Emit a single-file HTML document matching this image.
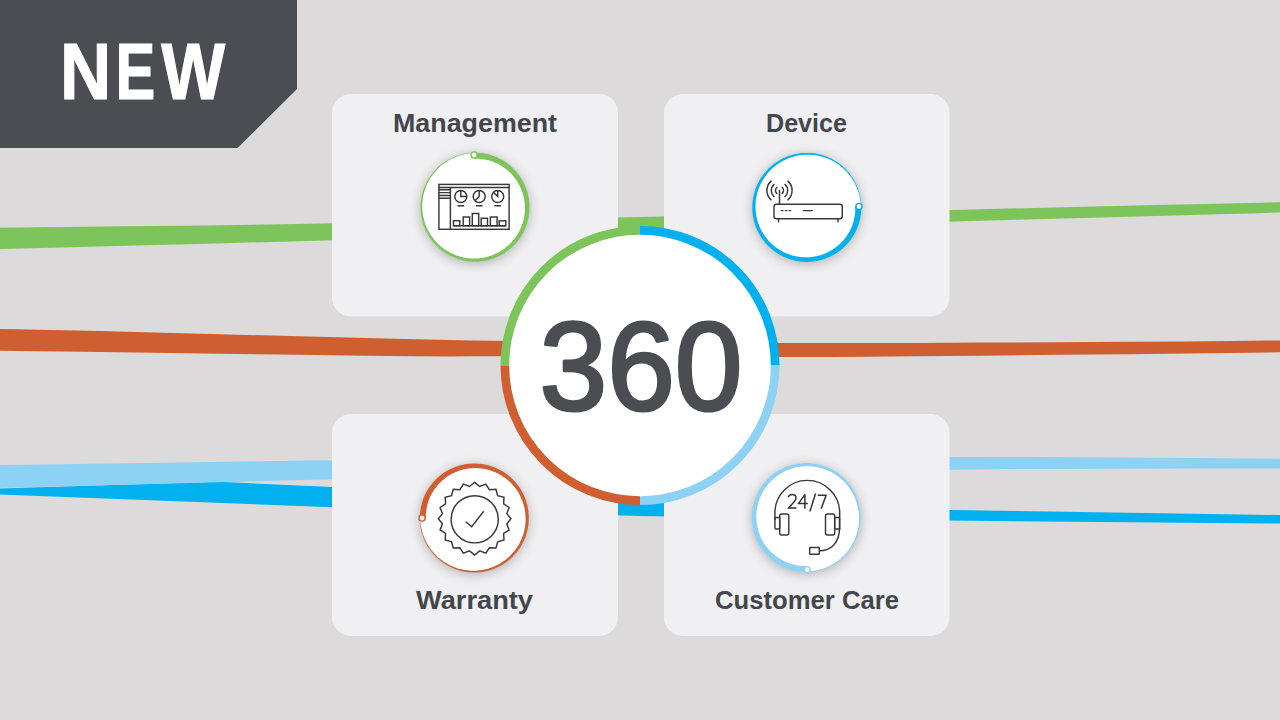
<!DOCTYPE html>
<html><head><meta charset="utf-8"><style>
html,body{margin:0;padding:0;background:#dcdadb;}
svg{display:block;}
text{font-family:"Liberation Sans",sans-serif;}
</style></head><body>
<svg width="1280" height="720" viewBox="0 0 1280 720">
<defs>
<filter id="sh" x="-50%" y="-50%" width="200%" height="200%">
<feGaussianBlur in="SourceAlpha" stdDeviation="6"/><feOffset dy="2"/>
<feComponentTransfer><feFuncA type="linear" slope="0.27"/></feComponentTransfer>
</filter>
</defs>
<rect width="1280" height="720" fill="#dcdadb"/>
<path d="M0,227.7 L20.75,227.47 L62.25,227.01 L124.5,226.31 L207.5,225.39 L308.31,223.82 L426.94,221.61 L563.38,218.75 L717.62,215.25 L854,212.14 L972.5,209.41 L1073.12,207.08 L1155.88,205.12 L1217.94,203.66 L1259.31,202.69 L1280,202.2 L1280,212.6 L1259.31,213.16 L1217.94,214.29 L1155.88,215.97 L1073.12,218.22 L972.5,221.09 L854,224.58 L717.62,228.69 L563.38,233.41 L426.94,237.49 L308.31,240.91 L207.5,243.69 L124.5,245.81 L62.25,247.41 L20.75,248.47 L0,249Z" fill="#7dc45b"/>
<path d="M-40,328 L-37.5,328.06 L-32.5,328.19 L-25,328.38 L-15,328.62 L-1.25,328.93 L16.25,329.29 L37.5,329.71 L62.5,330.19 L101.25,331.09 L153.75,332.41 L220,334.16 L300,336.34 L365,338.05 L415,339.3 L450,340.09 L470,340.41 L493.75,340.72 L521.25,341.02 L552.5,341.31 L587.5,341.59 L622.5,341.86 L657.5,342.12 L692.5,342.38 L727.5,342.62 L758.75,342.82 L786.25,342.98 L810,343.08 L830,343.12 L865,343.06 L915,342.89 L980,342.6 L1060,342.2 L1128.75,341.8 L1186.25,341.4 L1232.5,341 L1267.5,340.6 L1293.75,340.3 L1311.25,340.1 L1320,340 L1320,351.8 L1311.25,351.92 L1293.75,352.16 L1267.5,352.51 L1232.5,352.99 L1186.25,353.54 L1128.75,354.16 L1060,354.86 L980,355.64 L915,356.24 L865,356.66 L830,356.91 L810,356.99 L786.25,357.02 L758.75,357.01 L727.5,356.95 L692.5,356.85 L657.5,356.74 L622.5,356.63 L587.5,356.51 L552.5,356.39 L521.25,356.31 L493.75,356.29 L470,356.31 L450,356.39 L415,356.16 L365,355.64 L300,354.81 L220,353.69 L153.75,352.77 L101.25,352.06 L62.5,351.55 L37.5,351.25 L16.25,350.98 L-1.25,350.73 L-15,350.5 L-25,350.3 L-32.5,350.15 L-37.5,350.05 L-40,350Z" fill="#cf5e30"/>
<path d="M-40,489.5 L0,488.5 L218,481.8 L332,486.9 L949,510 L1280,515 L1280,523.5 L949,520.6 L640,516 L332,507.3 L0,494.5 L-40,494Z" fill="#00b0ef"/>
<path d="M-40,465.6 L-30,465.45 L-10,465.15 L60,464.15 L180,462.45 L263,461.2 L309,460.4 L486.25,459.06 L794.75,457.19 L1031.75,456.88 L1197.25,458.12 L1280,458.75 L1280,468.5 L1197.25,468.62 L1031.75,468.88 L794.75,471.55 L486.25,476.65 L303.5,479.95 L246.5,481.45 L163.5,483.65 L54.5,486.55 L-10,488.25 L-30,488.75 L-40,489Z" fill="#8dd2f4"/>
<polygon points="0,0 297,0 297,89 237.5,148 0,148" fill="#4a4e52"/>
<text transform="translate(59.94,98.8) scale(0.89,1)" x="0" y="0" font-size="79.6" font-weight="bold" fill="#fff" stroke="#fff" stroke-width="1.2">N</text><text transform="translate(115.58,98.8) scale(0.75,1)" x="0" y="0" font-size="79.6" font-weight="bold" fill="#fff" stroke="#fff" stroke-width="1.2">E</text><text transform="translate(161.13,98.8) scale(0.85,1)" x="0" y="0" font-size="79.6" font-weight="bold" fill="#fff" stroke="#fff" stroke-width="1.2">W</text>
<rect x="332" y="94" width="286" height="222.5" rx="19" fill="#f0f0f2"/>
<rect x="664" y="94" width="285.5" height="222.5" rx="19" fill="#f0f0f2"/>
<rect x="332" y="414" width="286" height="222" rx="19" fill="#f0f0f2"/>
<rect x="664" y="414" width="285.5" height="222" rx="19" fill="#f0f0f2"/>
<circle cx="640" cy="365.5" r="136" fill="#fff"/>
<path d="M504.85,365.5 A135.15,135.15 0 0 1 640,230.35" fill="none" stroke="#7dc45b" stroke-width="8.7"/>
<path d="M640,230.35 A135.15,135.15 0 0 1 775.15,365.5" fill="none" stroke="#00b0ef" stroke-width="8.7"/>
<path d="M775.15,365.5 A135.15,135.15 0 0 1 640,500.65" fill="none" stroke="#8dd2f4" stroke-width="8.7"/>
<path d="M640,500.65 A135.15,135.15 0 0 1 504.85,365.5" fill="none" stroke="#cf5e30" stroke-width="8.7"/>
<text x="539.5" y="409.6" font-size="127" fill="#4a4e53" stroke="#4a4e53" stroke-width="3.2" stroke-linejoin="round" textLength="203" lengthAdjust="spacingAndGlyphs">360</text>
<circle cx="475" cy="207.2" r="54.5" fill="#fff" filter="url(#sh)"/><circle cx="806.8" cy="207.4" r="54.5" fill="#fff" filter="url(#sh)"/><circle cx="474.3" cy="518" r="54.5" fill="#fff" filter="url(#sh)"/><circle cx="806.3" cy="517.5" r="54.5" fill="#fff" filter="url(#sh)"/><circle cx="475" cy="207.2" r="54.2" fill="#fff"/><path d="M474.05,152.71 L475.95,152.71 L477.85,152.77 L479.75,152.91 L481.64,153.11 L483.53,153.37 L485.4,153.7 L487.26,154.1 L489.11,154.56 L490.93,155.08 L492.74,155.67 L494.53,156.32 L496.29,157.03 L498.03,157.81 L499.74,158.64 L501.42,159.53 L503.07,160.48 L504.68,161.49 L506.26,162.56 L507.8,163.67 L509.3,164.85 L510.76,166.07 L512.17,167.34 L513.54,168.66 L514.86,170.03 L516.13,171.44 L517.35,172.9 L518.53,174.4 L519.64,175.94 L520.71,177.52 L521.72,179.13 L522.67,180.78 L523.56,182.46 L524.39,184.17 L525.17,185.91 L525.88,187.67 L526.53,189.46 L527.12,191.27 L527.64,193.09 L528.1,194.94 L528.5,196.8 L528.83,198.67 L529.09,200.56 L529.29,202.45 L529.43,204.35 L529.49,206.25 L529.49,208.15 L529.43,210.05 L529.29,211.95 L529.09,213.84 L528.83,215.73 L528.5,217.6 L528.1,219.46 L527.64,221.31 L527.12,223.13 L526.53,224.94 L525.88,226.73 L525.17,228.49 L524.39,230.23 L523.56,231.94 L522.67,233.62 L521.72,235.27 L520.71,236.88 L519.64,238.46 L518.53,240 L517.35,241.5 L516.13,242.96 L514.86,244.37 L513.54,245.74 L512.17,247.06 L510.76,248.33 L509.3,249.55 L507.8,250.73 L506.26,251.84 L504.68,252.91 L503.07,253.92 L501.42,254.87 L499.74,255.76 L498.03,256.59 L496.29,257.37 L494.53,258.08 L492.74,258.73 L490.93,259.32 L489.11,259.84 L487.26,260.3 L485.4,260.7 L483.53,261.03 L481.64,261.29 L479.75,261.49 L477.85,261.63 L475.95,261.69 L474.05,261.69 L472.15,261.63 L470.25,261.49 L468.36,261.29 L466.47,261.03 L464.6,260.7 L462.74,260.3 L460.89,259.84 L459.07,259.32 L457.26,258.73 L455.47,258.08 L453.71,257.37 L451.97,256.59 L450.26,255.76 L448.58,254.87 L446.93,253.92 L445.32,252.91 L443.74,251.84 L442.2,250.73 L440.7,249.55 L439.24,248.33 L437.83,247.06 L436.46,245.74 L435.14,244.37 L433.87,242.96 L432.65,241.5 L431.47,240 L430.36,238.46 L429.29,236.88 L428.28,235.27 L427.33,233.62 L426.44,231.94 L425.61,230.23 L424.83,228.49 L424.12,226.73 L423.47,224.94 L422.88,223.13 L422.36,221.31 L421.9,219.46 L421.5,217.6 L421.17,215.73 L420.91,213.84 L420.71,211.95 L420.57,210.05 L420.51,208.15 L420.51,206.25 L420.57,204.35 L420.71,202.45 L420.91,200.56 L421.17,198.67 L421.5,196.8 L421.9,194.94 L422.36,193.09 L422.88,191.27 L423.47,189.46 L424.12,187.67 L424.83,185.91 L425.61,184.17 L426.44,182.46 L427.33,180.78 L428.28,179.13 L429.29,177.52 L430.36,175.94 L431.47,174.4 L432.65,172.9 L433.87,171.44 L435.14,170.03 L436.46,168.66 L437.83,167.34 L439.24,166.07 L440.7,164.85 L442.2,163.67 L443.74,162.56 L445.32,161.49 L446.93,160.48 L448.58,159.53 L450.26,158.64 L451.97,157.81 L453.71,157.03 L455.47,156.32 L457.26,155.67 L459.07,155.08 L460.89,154.56 L462.74,154.1 L464.6,153.7 L466.47,153.37 L468.36,153.11 L470.25,152.91 L472.15,152.77 L474.05,152.71 L474.06,153.11 L472.17,153.21 L470.29,153.37 L468.42,153.6 L466.56,153.89 L464.71,154.25 L462.87,154.67 L461.05,155.15 L459.26,155.7 L457.48,156.31 L455.72,156.98 L454,157.72 L452.29,158.51 L450.62,159.36 L448.98,160.26 L447.38,161.23 L445.81,162.25 L444.27,163.32 L442.78,164.44 L441.33,165.62 L439.92,166.84 L438.55,168.11 L437.23,169.43 L435.96,170.79 L434.73,172.2 L433.56,173.64 L432.44,175.13 L431.37,176.65 L430.36,178.21 L429.4,179.8 L428.5,181.42 L427.66,183.08 L426.87,184.76 L426.15,186.46 L425.48,188.19 L424.88,189.94 L424.33,191.71 L423.86,193.5 L423.44,195.3 L423.09,197.11 L422.8,198.93 L422.57,200.76 L422.41,202.6 L422.31,204.44 L422.28,206.28 L422.31,208.12 L422.4,209.96 L422.56,211.79 L422.79,213.61 L423.07,215.42 L423.42,217.23 L423.83,219.01 L424.31,220.78 L424.84,222.54 L425.44,224.27 L426.09,225.97 L426.8,227.66 L427.58,229.31 L428.4,230.94 L429.29,232.54 L430.23,234.1 L431.22,235.63 L432.26,237.12 L433.36,238.58 L434.5,239.99 L435.7,241.37 L436.94,242.7 L438.22,243.98 L439.55,245.22 L440.92,246.41 L442.32,247.55 L443.77,248.64 L445.25,249.68 L446.77,250.67 L448.32,251.6 L449.9,252.48 L451.51,253.3 L453.15,254.06 L454.81,254.77 L456.49,255.41 L458.2,256 L459.92,256.53 L461.66,256.99 L463.41,257.4 L465.18,257.74 L466.95,258.02 L468.73,258.24 L470.52,258.4 L472.31,258.49 L474.1,258.52 L475.9,258.49 L477.68,258.4 L479.47,258.24 L481.24,258.02 L483.01,257.75 L484.76,257.4 L486.5,257 L488.22,256.54 L489.93,256.02 L491.61,255.44 L493.27,254.8 L494.91,254.11 L496.52,253.36 L498.11,252.55 L499.66,251.69 L501.18,250.77 L502.67,249.81 L504.12,248.79 L505.54,247.72 L506.91,246.61 L508.25,245.45 L509.54,244.24 L510.79,242.99 L512,241.7 L513.15,240.37 L514.26,238.99 L515.32,237.59 L516.33,236.14 L517.29,234.67 L518.2,233.16 L519.05,231.62 L519.85,230.05 L520.59,228.46 L521.28,226.84 L521.91,225.21 L522.48,223.55 L522.99,221.87 L523.44,220.18 L523.83,218.47 L524.17,216.76 L524.44,215.03 L524.65,213.3 L524.8,211.56 L524.89,209.81 L524.92,208.07 L524.89,206.33 L524.8,204.59 L524.65,202.86 L524.44,201.13 L524.16,199.41 L523.83,197.71 L523.44,196.02 L522.99,194.34 L522.48,192.68 L521.92,191.05 L521.3,189.43 L520.62,187.84 L519.89,186.27 L519.1,184.73 L518.26,183.22 L517.37,181.74 L516.43,180.29 L515.44,178.88 L514.4,177.51 L513.32,176.17 L512.19,174.87 L511.02,173.61 L509.8,172.4 L508.54,171.23 L507.25,170.1 L505.91,169.02 L504.54,167.99 L503.14,167.01 L501.7,166.08 L500.24,165.2 L498.74,164.37 L497.22,163.6 L495.67,162.88 L494.1,162.21 L492.5,161.6 L490.89,161.05 L489.26,160.55 L487.62,160.11 L485.96,159.73 L484.29,159.41 L482.61,159.14 L480.93,158.94 L479.24,158.79 L477.54,158.7 L475.85,158.68 L474.15,158.71Z" fill="#7dc45b"/><circle cx="474.09" cy="155.01" r="3.1" fill="#fff" stroke="#7dc45b" stroke-width="1.4"/><circle cx="806.8" cy="207.4" r="54.2" fill="#fff"/><path d="M861.29,206.45 L861.29,208.35 L861.23,210.25 L861.09,212.15 L860.89,214.04 L860.63,215.93 L860.3,217.8 L859.9,219.66 L859.44,221.51 L858.92,223.33 L858.33,225.14 L857.68,226.93 L856.97,228.69 L856.19,230.43 L855.36,232.14 L854.47,233.82 L853.52,235.47 L852.51,237.08 L851.44,238.66 L850.33,240.2 L849.15,241.7 L847.93,243.16 L846.66,244.57 L845.34,245.94 L843.97,247.26 L842.56,248.53 L841.1,249.75 L839.6,250.93 L838.06,252.04 L836.48,253.11 L834.87,254.12 L833.22,255.07 L831.54,255.96 L829.83,256.79 L828.09,257.57 L826.33,258.28 L824.54,258.93 L822.73,259.52 L820.91,260.04 L819.06,260.5 L817.2,260.9 L815.33,261.23 L813.44,261.49 L811.55,261.69 L809.65,261.83 L807.75,261.89 L805.85,261.89 L803.95,261.83 L802.05,261.69 L800.16,261.49 L798.27,261.23 L796.4,260.9 L794.54,260.5 L792.69,260.04 L790.87,259.52 L789.06,258.93 L787.27,258.28 L785.51,257.57 L783.77,256.79 L782.06,255.96 L780.38,255.07 L778.73,254.12 L777.12,253.11 L775.54,252.04 L774,250.93 L772.5,249.75 L771.04,248.53 L769.63,247.26 L768.26,245.94 L766.94,244.57 L765.67,243.16 L764.45,241.7 L763.27,240.2 L762.16,238.66 L761.09,237.08 L760.08,235.47 L759.13,233.82 L758.24,232.14 L757.41,230.43 L756.63,228.69 L755.92,226.93 L755.27,225.14 L754.68,223.33 L754.16,221.51 L753.7,219.66 L753.3,217.8 L752.97,215.93 L752.71,214.04 L752.51,212.15 L752.37,210.25 L752.31,208.35 L752.31,206.45 L752.37,204.55 L752.51,202.65 L752.71,200.76 L752.97,198.87 L753.3,197 L753.7,195.14 L754.16,193.29 L754.68,191.47 L755.27,189.66 L755.92,187.87 L756.63,186.11 L757.41,184.37 L758.24,182.66 L759.13,180.98 L760.08,179.33 L761.09,177.72 L762.16,176.14 L763.27,174.6 L764.45,173.1 L765.67,171.64 L766.94,170.23 L768.26,168.86 L769.63,167.54 L771.04,166.27 L772.5,165.05 L774,163.87 L775.54,162.76 L777.12,161.69 L778.73,160.68 L780.38,159.73 L782.06,158.84 L783.77,158.01 L785.51,157.23 L787.27,156.52 L789.06,155.87 L790.87,155.28 L792.69,154.76 L794.54,154.3 L796.4,153.9 L798.27,153.57 L800.16,153.31 L802.05,153.11 L803.95,152.97 L805.85,152.91 L807.75,152.91 L809.65,152.97 L811.55,153.11 L813.44,153.31 L815.33,153.57 L817.2,153.9 L819.06,154.3 L820.91,154.76 L822.73,155.28 L824.54,155.87 L826.33,156.52 L828.09,157.23 L829.83,158.01 L831.54,158.84 L833.22,159.73 L834.87,160.68 L836.48,161.69 L838.06,162.76 L839.6,163.87 L841.1,165.05 L842.56,166.27 L843.97,167.54 L845.34,168.86 L846.66,170.23 L847.93,171.64 L849.15,173.1 L850.33,174.6 L851.44,176.14 L852.51,177.72 L853.52,179.33 L854.47,180.98 L855.36,182.66 L856.19,184.37 L856.97,186.11 L857.68,187.87 L858.33,189.66 L858.92,191.47 L859.44,193.29 L859.9,195.14 L860.3,197 L860.63,198.87 L860.89,200.76 L861.09,202.65 L861.23,204.55 L861.29,206.45 L860.89,206.46 L860.79,204.57 L860.63,202.69 L860.4,200.82 L860.11,198.96 L859.75,197.11 L859.33,195.27 L858.85,193.45 L858.3,191.66 L857.69,189.88 L857.02,188.12 L856.28,186.4 L855.49,184.69 L854.64,183.02 L853.74,181.38 L852.77,179.78 L851.75,178.21 L850.68,176.67 L849.56,175.18 L848.38,173.73 L847.16,172.32 L845.89,170.95 L844.57,169.63 L843.21,168.36 L841.8,167.13 L840.36,165.96 L838.87,164.84 L837.35,163.77 L835.79,162.76 L834.2,161.8 L832.58,160.9 L830.92,160.06 L829.24,159.27 L827.54,158.55 L825.81,157.88 L824.06,157.28 L822.29,156.73 L820.5,156.26 L818.7,155.84 L816.89,155.49 L815.07,155.2 L813.24,154.97 L811.4,154.81 L809.56,154.71 L807.72,154.68 L805.88,154.71 L804.04,154.8 L802.21,154.96 L800.39,155.19 L798.58,155.47 L796.77,155.82 L794.99,156.23 L793.22,156.71 L791.46,157.24 L789.73,157.84 L788.03,158.49 L786.34,159.2 L784.69,159.98 L783.06,160.8 L781.46,161.69 L779.9,162.63 L778.37,163.62 L776.88,164.66 L775.42,165.76 L774.01,166.9 L772.63,168.1 L771.3,169.34 L770.02,170.62 L768.78,171.95 L767.59,173.32 L766.45,174.72 L765.36,176.17 L764.32,177.65 L763.33,179.17 L762.4,180.72 L761.52,182.3 L760.7,183.91 L759.94,185.55 L759.23,187.21 L758.59,188.89 L758,190.6 L757.47,192.32 L757.01,194.06 L756.6,195.81 L756.26,197.58 L755.98,199.35 L755.76,201.13 L755.6,202.92 L755.51,204.71 L755.48,206.5 L755.51,208.3 L755.6,210.08 L755.76,211.87 L755.98,213.64 L756.25,215.41 L756.6,217.16 L757,218.9 L757.46,220.62 L757.98,222.33 L758.56,224.01 L759.2,225.67 L759.89,227.31 L760.64,228.92 L761.45,230.51 L762.31,232.06 L763.23,233.58 L764.19,235.07 L765.21,236.52 L766.28,237.94 L767.39,239.31 L768.55,240.65 L769.76,241.94 L771.01,243.19 L772.3,244.4 L773.63,245.55 L775.01,246.66 L776.41,247.72 L777.86,248.73 L779.33,249.69 L780.84,250.6 L782.38,251.45 L783.95,252.25 L785.54,252.99 L787.16,253.68 L788.79,254.31 L790.45,254.88 L792.13,255.39 L793.82,255.84 L795.53,256.23 L797.24,256.57 L798.97,256.84 L800.7,257.05 L802.44,257.2 L804.19,257.29 L805.93,257.32 L807.67,257.29 L809.41,257.2 L811.14,257.05 L812.87,256.84 L814.59,256.56 L816.29,256.23 L817.98,255.84 L819.66,255.39 L821.32,254.88 L822.95,254.32 L824.57,253.7 L826.16,253.02 L827.73,252.29 L829.27,251.5 L830.78,250.66 L832.26,249.77 L833.71,248.83 L835.12,247.84 L836.49,246.8 L837.83,245.72 L839.13,244.59 L840.39,243.42 L841.6,242.2 L842.77,240.94 L843.9,239.65 L844.98,238.31 L846.01,236.94 L846.99,235.54 L847.92,234.1 L848.8,232.64 L849.63,231.14 L850.4,229.62 L851.12,228.07 L851.79,226.5 L852.4,224.9 L852.95,223.29 L853.45,221.66 L853.89,220.02 L854.27,218.36 L854.59,216.69 L854.86,215.01 L855.06,213.33 L855.21,211.64 L855.3,209.94 L855.32,208.25 L855.29,206.55Z" fill="#00b0ef"/><circle cx="858.99" cy="206.49" r="3.1" fill="#fff" stroke="#00b0ef" stroke-width="1.4"/><circle cx="474.3" cy="518" r="54.2" fill="#fff"/><path d="M419.8,518 L419.83,516.1 L419.93,514.2 L420.1,512.3 L420.33,510.42 L420.63,508.54 L420.99,506.67 L421.42,504.82 L421.91,502.98 L422.47,501.16 L423.09,499.36 L423.77,497.58 L424.51,495.83 L425.32,494.11 L426.18,492.41 L427.1,490.75 L428.08,489.12 L429.12,487.52 L430.21,485.97 L431.35,484.45 L432.55,482.97 L433.8,481.53 L435.1,480.14 L436.44,478.8 L437.83,477.5 L439.27,476.25 L440.75,475.05 L442.27,473.91 L443.82,472.82 L445.42,471.78 L447.05,470.8 L448.71,469.88 L450.41,469.02 L452.13,468.21 L453.88,467.47 L455.66,466.79 L457.46,466.17 L459.28,465.61 L461.12,465.12 L462.97,464.69 L464.84,464.33 L466.72,464.03 L468.6,463.8 L470.5,463.63 L472.4,463.53 L474.3,463.5 L476.2,463.53 L478.1,463.63 L480,463.8 L481.88,464.03 L483.76,464.33 L485.63,464.69 L487.48,465.12 L489.32,465.61 L491.14,466.17 L492.94,466.79 L494.72,467.47 L496.47,468.21 L498.19,469.02 L499.89,469.88 L501.55,470.8 L503.18,471.78 L504.78,472.82 L506.33,473.91 L507.85,475.05 L509.33,476.25 L510.77,477.5 L512.16,478.8 L513.5,480.14 L514.8,481.53 L516.05,482.97 L517.25,484.45 L518.39,485.97 L519.48,487.52 L520.52,489.12 L521.5,490.75 L522.42,492.41 L523.28,494.11 L524.09,495.83 L524.83,497.58 L525.51,499.36 L526.13,501.16 L526.69,502.98 L527.18,504.82 L527.61,506.67 L527.97,508.54 L528.27,510.42 L528.5,512.3 L528.67,514.2 L528.77,516.1 L528.8,518 L528.77,519.9 L528.67,521.8 L528.5,523.7 L528.27,525.58 L527.97,527.46 L527.61,529.33 L527.18,531.18 L526.69,533.02 L526.13,534.84 L525.51,536.64 L524.83,538.42 L524.09,540.17 L523.28,541.89 L522.42,543.59 L521.5,545.25 L520.52,546.88 L519.48,548.48 L518.39,550.03 L517.25,551.55 L516.05,553.03 L514.8,554.47 L513.5,555.86 L512.16,557.2 L510.77,558.5 L509.33,559.75 L507.85,560.95 L506.33,562.09 L504.78,563.18 L503.18,564.22 L501.55,565.2 L499.89,566.12 L498.19,566.98 L496.47,567.79 L494.72,568.53 L492.94,569.21 L491.14,569.83 L489.32,570.39 L487.48,570.88 L485.63,571.31 L483.76,571.67 L481.88,571.97 L480,572.2 L478.1,572.37 L476.2,572.47 L474.3,572.5 L472.4,572.47 L470.5,572.37 L468.6,572.2 L466.72,571.97 L464.84,571.67 L462.97,571.31 L461.12,570.88 L459.28,570.39 L457.46,569.83 L455.66,569.21 L453.88,568.53 L452.13,567.79 L450.41,566.98 L448.71,566.12 L447.05,565.2 L445.42,564.22 L443.82,563.18 L442.27,562.09 L440.75,560.95 L439.27,559.75 L437.83,558.5 L436.44,557.2 L435.1,555.86 L433.8,554.47 L432.55,553.03 L431.35,551.55 L430.21,550.03 L429.12,548.48 L428.08,546.88 L427.1,545.25 L426.18,543.59 L425.32,541.89 L424.51,540.17 L423.77,538.42 L423.09,536.64 L422.47,534.84 L421.91,533.02 L421.42,531.18 L420.99,529.33 L420.63,527.46 L420.33,525.58 L420.1,523.7 L419.93,521.8 L419.83,519.9 L419.8,518 L420.2,518 L420.26,519.89 L420.39,521.77 L420.59,523.65 L420.85,525.51 L421.18,527.37 L421.56,529.21 L422.02,531.04 L422.53,532.84 L423.11,534.63 L423.75,536.4 L424.46,538.14 L425.22,539.85 L426.04,541.54 L426.92,543.19 L427.85,544.82 L428.84,546.4 L429.89,547.96 L430.99,549.47 L432.13,550.94 L433.33,552.37 L434.58,553.76 L435.88,555.11 L437.22,556.4 L438.6,557.65 L440.03,558.85 L441.49,559.99 L442.99,561.09 L444.53,562.13 L446.11,563.11 L447.72,564.04 L449.35,564.92 L451.02,565.73 L452.71,566.48 L454.43,567.18 L456.17,567.81 L457.93,568.39 L459.71,568.9 L461.5,569.35 L463.3,569.73 L465.12,570.05 L466.95,570.31 L468.78,570.5 L470.62,570.63 L472.46,570.7 L474.3,570.7 L476.14,570.64 L477.97,570.51 L479.8,570.32 L481.62,570.06 L483.42,569.75 L485.22,569.37 L487,568.92 L488.76,568.42 L490.5,567.85 L492.22,567.23 L493.91,566.55 L495.58,565.8 L497.22,565 L498.84,564.15 L500.42,563.24 L501.96,562.27 L503.47,561.25 L504.95,560.18 L506.38,559.06 L507.77,557.89 L509.13,556.68 L510.43,555.42 L511.69,554.11 L512.91,552.76 L514.07,551.37 L515.19,549.95 L516.26,548.48 L517.27,546.98 L518.23,545.45 L519.13,543.88 L519.98,542.29 L520.77,540.67 L521.51,539.02 L522.18,537.35 L522.8,535.65 L523.36,533.94 L523.85,532.21 L524.29,530.46 L524.66,528.7 L524.97,526.94 L525.22,525.16 L525.41,523.37 L525.54,521.58 L525.6,519.79 L525.6,518 L525.54,516.21 L525.41,514.43 L525.23,512.65 L524.98,510.88 L524.67,509.12 L524.3,507.37 L523.86,505.64 L523.37,503.93 L522.82,502.23 L522.21,500.56 L521.55,498.91 L520.82,497.29 L520.04,495.69 L519.21,494.12 L518.32,492.58 L517.38,491.08 L516.39,489.61 L515.35,488.18 L514.26,486.78 L513.12,485.42 L511.94,484.11 L510.71,482.84 L509.44,481.61 L508.13,480.43 L506.78,479.3 L505.39,478.21 L503.96,477.18 L502.5,476.19 L501.01,475.26 L499.48,474.38 L497.93,473.56 L496.35,472.79 L494.75,472.07 L493.12,471.42 L491.47,470.82 L489.81,470.28 L488.12,469.79 L486.42,469.37 L484.71,469.01 L482.99,468.7 L481.26,468.46 L479.53,468.28 L477.79,468.16 L476.04,468.1 L474.3,468.1 L472.56,468.16 L470.82,468.28 L469.09,468.47 L467.37,468.71 L465.66,469.01 L463.96,469.37 L462.28,469.79 L460.61,470.27 L458.97,470.81 L457.34,471.4 L455.74,472.05 L454.16,472.76 L452.6,473.51 L451.08,474.33 L449.58,475.19 L448.12,476.1 L446.69,477.07 L445.3,478.08 L443.94,479.14 L442.62,480.25 L441.35,481.4 L440.11,482.6 L438.92,483.83 L437.77,485.11 L436.67,486.42 L435.62,487.78 L434.61,489.16 L433.65,490.58 L432.75,492.04 L431.89,493.52 L431.09,495.03 L430.34,496.56 L429.65,498.12 L429.01,499.7 L428.43,501.31 L427.91,502.93 L427.44,504.56 L427.03,506.21 L426.68,507.88 L426.38,509.55 L426.15,511.23 L425.97,512.92 L425.86,514.61 L425.8,516.31 L425.8,518Z" fill="#cf5e30"/><circle cx="422.1" cy="518" r="3.1" fill="#fff" stroke="#cf5e30" stroke-width="1.4"/><circle cx="806.3" cy="517.5" r="54.2" fill="#fff"/><path d="M807.25,571.99 L805.35,571.99 L803.45,571.93 L801.55,571.79 L799.66,571.59 L797.77,571.33 L795.9,571 L794.04,570.6 L792.19,570.14 L790.37,569.62 L788.56,569.03 L786.77,568.38 L785.01,567.67 L783.27,566.89 L781.56,566.06 L779.88,565.17 L778.23,564.22 L776.62,563.21 L775.04,562.14 L773.5,561.03 L772,559.85 L770.54,558.63 L769.13,557.36 L767.76,556.04 L766.44,554.67 L765.17,553.26 L763.95,551.8 L762.77,550.3 L761.66,548.76 L760.59,547.18 L759.58,545.57 L758.63,543.92 L757.74,542.24 L756.91,540.53 L756.13,538.79 L755.42,537.03 L754.77,535.24 L754.18,533.43 L753.66,531.61 L753.2,529.76 L752.8,527.9 L752.47,526.03 L752.21,524.14 L752.01,522.25 L751.87,520.35 L751.81,518.45 L751.81,516.55 L751.87,514.65 L752.01,512.75 L752.21,510.86 L752.47,508.97 L752.8,507.1 L753.2,505.24 L753.66,503.39 L754.18,501.57 L754.77,499.76 L755.42,497.97 L756.13,496.21 L756.91,494.47 L757.74,492.76 L758.63,491.08 L759.58,489.43 L760.59,487.82 L761.66,486.24 L762.77,484.7 L763.95,483.2 L765.17,481.74 L766.44,480.33 L767.76,478.96 L769.13,477.64 L770.54,476.37 L772,475.15 L773.5,473.97 L775.04,472.86 L776.62,471.79 L778.23,470.78 L779.88,469.83 L781.56,468.94 L783.27,468.11 L785.01,467.33 L786.77,466.62 L788.56,465.97 L790.37,465.38 L792.19,464.86 L794.04,464.4 L795.9,464 L797.77,463.67 L799.66,463.41 L801.55,463.21 L803.45,463.07 L805.35,463.01 L807.25,463.01 L809.15,463.07 L811.05,463.21 L812.94,463.41 L814.83,463.67 L816.7,464 L818.56,464.4 L820.41,464.86 L822.23,465.38 L824.04,465.97 L825.83,466.62 L827.59,467.33 L829.33,468.11 L831.04,468.94 L832.72,469.83 L834.37,470.78 L835.98,471.79 L837.56,472.86 L839.1,473.97 L840.6,475.15 L842.06,476.37 L843.47,477.64 L844.84,478.96 L846.16,480.33 L847.43,481.74 L848.65,483.2 L849.83,484.7 L850.94,486.24 L852.01,487.82 L853.02,489.43 L853.97,491.08 L854.86,492.76 L855.69,494.47 L856.47,496.21 L857.18,497.97 L857.83,499.76 L858.42,501.57 L858.94,503.39 L859.4,505.24 L859.8,507.1 L860.13,508.97 L860.39,510.86 L860.59,512.75 L860.73,514.65 L860.79,516.55 L860.79,518.45 L860.73,520.35 L860.59,522.25 L860.39,524.14 L860.13,526.03 L859.8,527.9 L859.4,529.76 L858.94,531.61 L858.42,533.43 L857.83,535.24 L857.18,537.03 L856.47,538.79 L855.69,540.53 L854.86,542.24 L853.97,543.92 L853.02,545.57 L852.01,547.18 L850.94,548.76 L849.83,550.3 L848.65,551.8 L847.43,553.26 L846.16,554.67 L844.84,556.04 L843.47,557.36 L842.06,558.63 L840.6,559.85 L839.1,561.03 L837.56,562.14 L835.98,563.21 L834.37,564.22 L832.72,565.17 L831.04,566.06 L829.33,566.89 L827.59,567.67 L825.83,568.38 L824.04,569.03 L822.23,569.62 L820.41,570.14 L818.56,570.6 L816.7,571 L814.83,571.33 L812.94,571.59 L811.05,571.79 L809.15,571.93 L807.25,571.99 L807.24,571.59 L809.13,571.49 L811.01,571.33 L812.88,571.1 L814.74,570.81 L816.59,570.45 L818.43,570.03 L820.25,569.55 L822.04,569 L823.82,568.39 L825.58,567.72 L827.3,566.98 L829.01,566.19 L830.68,565.34 L832.32,564.44 L833.92,563.47 L835.49,562.45 L837.03,561.38 L838.52,560.26 L839.97,559.08 L841.38,557.86 L842.75,556.59 L844.07,555.27 L845.34,553.91 L846.57,552.5 L847.74,551.06 L848.86,549.57 L849.93,548.05 L850.94,546.49 L851.9,544.9 L852.8,543.28 L853.64,541.62 L854.43,539.94 L855.15,538.24 L855.82,536.51 L856.42,534.76 L856.97,532.99 L857.44,531.2 L857.86,529.4 L858.21,527.59 L858.5,525.77 L858.73,523.94 L858.89,522.1 L858.99,520.26 L859.02,518.42 L858.99,516.58 L858.9,514.74 L858.74,512.91 L858.51,511.09 L858.23,509.28 L857.88,507.47 L857.47,505.69 L856.99,503.92 L856.46,502.16 L855.86,500.43 L855.21,498.73 L854.5,497.04 L853.72,495.39 L852.9,493.76 L852.01,492.16 L851.07,490.6 L850.08,489.07 L849.04,487.58 L847.94,486.12 L846.8,484.71 L845.6,483.33 L844.36,482 L843.08,480.72 L841.75,479.48 L840.38,478.29 L838.98,477.15 L837.53,476.06 L836.05,475.02 L834.53,474.03 L832.98,473.1 L831.4,472.22 L829.79,471.4 L828.15,470.64 L826.49,469.93 L824.81,469.29 L823.1,468.7 L821.38,468.17 L819.64,467.71 L817.89,467.3 L816.12,466.96 L814.35,466.68 L812.57,466.46 L810.78,466.3 L808.99,466.21 L807.2,466.18 L805.4,466.21 L803.62,466.3 L801.83,466.46 L800.06,466.68 L798.29,466.95 L796.54,467.3 L794.8,467.7 L793.08,468.16 L791.37,468.68 L789.69,469.26 L788.03,469.9 L786.39,470.59 L784.78,471.34 L783.19,472.15 L781.64,473.01 L780.12,473.93 L778.63,474.89 L777.18,475.91 L775.76,476.98 L774.39,478.09 L773.05,479.25 L771.76,480.46 L770.51,481.71 L769.3,483 L768.15,484.33 L767.04,485.71 L765.98,487.11 L764.97,488.56 L764.01,490.03 L763.1,491.54 L762.25,493.08 L761.45,494.65 L760.71,496.24 L760.02,497.86 L759.39,499.49 L758.82,501.15 L758.31,502.83 L757.86,504.52 L757.47,506.23 L757.13,507.94 L756.86,509.67 L756.65,511.4 L756.5,513.14 L756.41,514.89 L756.38,516.63 L756.41,518.37 L756.5,520.11 L756.65,521.84 L756.86,523.57 L757.14,525.29 L757.47,526.99 L757.86,528.68 L758.31,530.36 L758.82,532.02 L759.38,533.65 L760,535.27 L760.68,536.86 L761.41,538.43 L762.2,539.97 L763.04,541.48 L763.93,542.96 L764.87,544.41 L765.86,545.82 L766.9,547.19 L767.98,548.53 L769.11,549.83 L770.28,551.09 L771.5,552.3 L772.76,553.47 L774.05,554.6 L775.39,555.68 L776.76,556.71 L778.16,557.69 L779.6,558.62 L781.06,559.5 L782.56,560.33 L784.08,561.1 L785.63,561.82 L787.2,562.49 L788.8,563.1 L790.41,563.65 L792.04,564.15 L793.68,564.59 L795.34,564.97 L797.01,565.29 L798.69,565.56 L800.37,565.76 L802.06,565.91 L803.76,566 L805.45,566.02 L807.15,565.99Z" fill="#8dd2f4"/><circle cx="807.21" cy="569.69" r="3.1" fill="#fff" stroke="#8dd2f4" stroke-width="1.4"/>
<g fill="none" stroke="#383838" stroke-width="1.45">
<rect x="438.9" y="184.4" width="70.2" height="44.9"/>
<path d="M438.75,187.4 H509.25 M450.4,187.4 V229.6 M438.75,189.8 H450.4 M438.75,192.6 H450.4 M438.75,195.4 H450.4 M438.75,198.2 H450.4"/>
<circle cx="460.8" cy="196.5" r="6"/><circle cx="479.2" cy="196.5" r="6"/><circle cx="497.7" cy="196.5" r="6"/>
<path d="M460.8,190.5 V196.5 H466.8 M479.2,190.5 V196.5 L475,200.7 M497.7,190.5 V196.5 L493.5,192.3"/>
<path d="M457.5,205.7 H464.1 M475.9,205.7 H482.5 M494.4,205.7 H501"/>
<path d="M453.5,225.8 H505.8"/>
<rect x="453.5" y="220.7" width="6.3" height="5.1"/>
<rect x="463.2" y="217" width="6.4" height="8.8"/>
<rect x="472.3" y="213.5" width="6.4" height="12.3"/>
<rect x="481.2" y="218.3" width="6.3" height="7.5"/>
<rect x="490.4" y="217" width="6.7" height="8.8"/>
<rect x="499.2" y="220.8" width="6.6" height="5"/>
</g>
<g fill="none" stroke="#383838" stroke-width="1.45" stroke-linecap="round">
<rect x="774" y="204.3" width="68.3" height="14.4" rx="2.5"/>
<path d="M778.5,218.7 V221.8 M838,218.7 V221.8"/>
<path d="M781.5,210.6 H783 M785.3,210.6 H786.8 M789.1,210.6 H790.6 M803.3,210.6 H812.3"/>
<path d="M779.5,190.5 V204.3"/>
<path d="M776.82,187.53 A4,4 0 0 0 776.82,193.47 M774.01,184.41 A8.2,8.2 0 0 0 774.01,196.59 M771.07,181.14 A12.6,12.6 0 0 0 771.07,199.86 M782.18,187.53 A4,4 0 0 1 782.18,193.47 M784.99,184.41 A8.2,8.2 0 0 1 784.99,196.59 M787.93,181.14 A12.6,12.6 0 0 1 787.93,199.86"/>
</g>
<g fill="none" stroke="#383838" stroke-width="1.45">
<polygon points="474.6,482.4 479.7,486.5 485.82,484.18 489.4,489.65 495.94,489.33 497.65,495.65 503.97,497.36 503.65,503.9 509.12,507.48 506.8,513.6 510.9,518.7 506.8,523.8 509.12,529.92 503.65,533.5 503.97,540.04 497.65,541.75 495.94,548.07 489.4,547.75 485.82,553.22 479.7,550.9 474.6,555 469.5,550.9 463.38,553.22 459.8,547.75 453.26,548.07 451.55,541.75 445.23,540.04 445.55,533.5 440.08,529.92 442.4,523.8 438.3,518.7 442.4,513.6 440.08,507.48 445.55,503.9 445.23,497.36 451.55,495.65 453.26,489.33 459.8,489.65 463.38,484.18 469.5,486.5"/>
<circle cx="474.7" cy="519.3" r="23.6"/>
<path d="M465.8,521.7 L471.7,526.7 L483.7,511.3"/>
</g>
<g fill="none" stroke="#383838" stroke-width="1.45">
<path d="M774.9,520 V512.8 A32.4,32.4 0 0 1 839.7,512.8 V530"/>
<rect x="774.9" y="517.5" width="4.8" height="11.5" rx="1"/>
<rect x="779.7" y="514" width="9.1" height="21" rx="2"/>
<rect x="825.5" y="514" width="9.2" height="21" rx="2"/>
<rect x="834.7" y="517.5" width="4.8" height="11.5" rx="1"/>
<path d="M839.5,528 C839.5,543 831,550.8 819.3,550.8"/>
<rect x="809.7" y="547.5" width="9.6" height="6.7" rx="0.5"/>
</g>
<path d="M788.1,497.3 C788.9,495.4 790.5,494.4 792.2,494.4 C794.5,494.4 796,495.9 796,498.1 C796,500.8 792.8,503.6 788.3,508.1 H796.5 M804.9,508.7 V494.6 L798.4,503.6 H807.9 M815.6,493.4 L809.9,511.4 M817.8,495.3 H826.1 L821.2,508.7" fill="none" stroke="#333" stroke-width="1.5" stroke-linejoin="round"/>
<g font-weight="bold" fill="#43474b" font-size="25">
<text x="393" y="132.4" textLength="164" lengthAdjust="spacingAndGlyphs">Management</text>
<text x="766" y="132.3" textLength="81" lengthAdjust="spacingAndGlyphs">Device</text>
<text x="416" y="609" textLength="117" lengthAdjust="spacingAndGlyphs">Warranty</text>
<text x="715" y="609.4" textLength="184" lengthAdjust="spacingAndGlyphs">Customer Care</text>
</g>
</svg>
</body></html>
